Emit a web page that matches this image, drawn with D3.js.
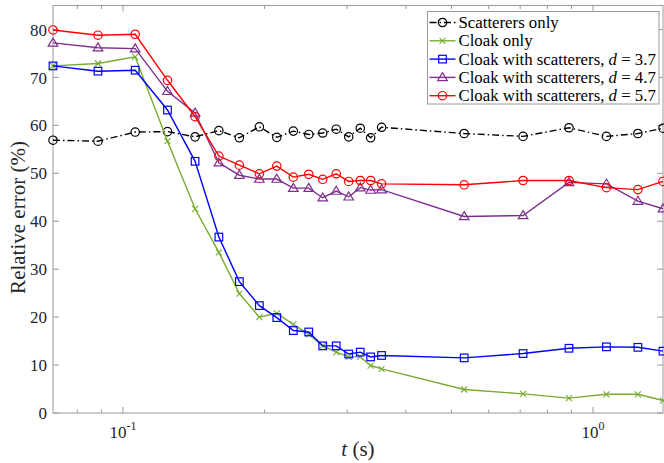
<!DOCTYPE html>
<html>
<head>
<meta charset="utf-8">
<script src="https://cdn.jsdelivr.net/npm/d3@7"></script>
<style>
  body { margin: 0; background: #fff; }
  svg { display: block; font-family: "Liberation Serif", "DejaVu Serif", serif; }
  svg text { font-family: "Liberation Serif", "DejaVu Serif", serif; }
</style>
</head>
<body>
<svg id="chart" width="664" height="463"></svg>
<script>
// time samples (s)
const tValues = [0.0710, 0.0885, 0.1062, 0.1244, 0.1424, 0.1600, 0.1769, 0.1951, 0.2125, 0.2304,
  0.2485, 0.2661, 0.2843, 0.3022, 0.3198, 0.3365, 0.3550, 0.5320, 0.7100, 0.8890, 1.0680, 1.2460, 1.4090]

const scatterersOnly = [56.9, 56.7, 58.6, 58.7, 57.6, 58.9, 57.4, 59.7, 57.5, 58.8, 58.1, 58.4, 59.2,
  57.6, 59.4, 57.4, 59.6, 58.3, 57.7, 59.5, 57.7, 58.3, 59.4]
const cloakOnly = [72.4, 72.9, 74.3, 56.7, 42.6, 33.5, 24.9, 20.0, 20.8, 18.5, 16.4, 14.0, 12.7,
  11.7, 11.7, 9.9, 9.2, 4.9, 4.0, 3.1, 3.9, 3.9, 2.6]
const cloakD37 = [72.4, 71.3, 71.5, 63.2, 52.5, 36.7, 27.4, 22.4, 19.9, 17.2, 16.9, 14.0, 14.0,
  12.3, 12.7, 11.7, 12.0, 11.5, 12.4, 13.5, 13.8, 13.7, 12.9]
const cloakD47 = [77.2, 76.2, 76.0, 67.1, 62.6, 52.2, 49.6, 48.8, 48.8, 46.9, 46.9, 44.9, 46.3,
  45.1, 47.0, 46.5, 46.6, 41.0, 41.2, 48.1, 47.8, 44.2, 42.6]
const cloakD57 = [79.9, 78.8, 79.0, 69.4, 61.8, 53.6, 51.7, 49.9, 51.5, 49.2, 49.8, 48.75, 49.9,
  48.3, 48.5, 48.5, 47.8, 47.6, 48.5, 48.5, 47.0, 46.6, 48.3]

const seriesNames = ['Scatterers only', 'Cloak only', 'Cloak with scatterers, ', 'Cloak with scatterers, ', 'Cloak with scatterers, ']
const dLabels = [null, null, '3.7', '4.7', '5.7']
const yTicks = [0, 10, 20, 30, 40, 50, 60, 70, 80]

const series = [
  { name: seriesNames[0], d: dLabels[0], values: scatterersOnly, color: '#000000', marker: 'circle', dash: '7,3,1.5,3' },
  { name: seriesNames[1], d: dLabels[1], values: cloakOnly, color: '#77AC30', marker: 'cross', dash: null },
  { name: seriesNames[2], d: dLabels[2], values: cloakD37, color: '#0000FF', marker: 'square', dash: null },
  { name: seriesNames[3], d: dLabels[3], values: cloakD47, color: '#7E2F8E', marker: 'triangle', dash: null },
  { name: seriesNames[4], d: dLabels[4], values: cloakD57, color: '#FF0000', marker: 'circle', dash: null }
]

const graphWidth = 664
const graphHeight = 463
const margin = { top: 5.5, bottom: 50, left: 53, right: 1 }
const width = graphWidth - margin.left - margin.right
const height = graphHeight - margin.top - margin.bottom
const axisColor = '#9a9a9a'
const textColor = '#262626'

const svg = d3.select('#chart')

const chartArea = svg.append('g')
  .attr('transform', `translate(${margin.left},${margin.top})`)

//scales
const xScale = d3.scaleLog().domain([0.0710, 1.4090]).range([0, width])
const yScale = d3.scaleLinear().domain([0, 85]).range([height, 0])

//box
chartArea.append('rect')
  .attr('width', width).attr('height', height)
  .attr('fill', 'none').attr('stroke', axisColor).attr('stroke-width', 1)

//major + minor x ticks (inward, top and bottom)
const majorX = [0.1, 1]
const minorX = [0.08, 0.09, 0.2, 0.3, 0.4, 0.5, 0.6, 0.7, 0.8, 0.9]
const tickG = chartArea.append('g').attr('stroke', axisColor).attr('stroke-width', 1)
majorX.forEach(v => {
  const x = xScale(v)
  tickG.append('line').attr('x1', x).attr('x2', x).attr('y1', height).attr('y2', height - 6)
  tickG.append('line').attr('x1', x).attr('x2', x).attr('y1', 0).attr('y2', 6)
})
minorX.forEach(v => {
  const x = xScale(v)
  tickG.append('line').attr('x1', x).attr('x2', x).attr('y1', height).attr('y2', height - 3.5)
  tickG.append('line').attr('x1', x).attr('x2', x).attr('y1', 0).attr('y2', 3.5)
})
yTicks.forEach(v => {
  const y = yScale(v)
  tickG.append('line').attr('x1', 0).attr('x2', 6).attr('y1', y).attr('y2', y)
  tickG.append('line').attr('x1', width - 6).attr('x2', width).attr('y1', y).attr('y2', y)
})

//y tick labels
chartArea.append('g').selectAll('text')
  .data(yTicks).enter().append('text')
  .attr('x', -6).attr('y', d => yScale(d))
  .attr('dy', '0.36em')
  .attr('text-anchor', 'end')
  .attr('font-size', 17)
  .attr('fill', textColor)
  .text(d => d)

//x tick labels 10^n
const xLabels = chartArea.append('g').selectAll('text')
  .data([{ v: 0.1, e: '-1' }, { v: 1, e: '0' }]).enter().append('text')
  .attr('x', d => xScale(d.v)).attr('y', height + 25)
  .attr('text-anchor', 'middle')
  .attr('font-size', 17)
  .attr('fill', textColor)
xLabels.append('tspan').text('10')
xLabels.append('tspan').attr('dy', -8).attr('font-size', 12).text(d => d.e)

//axis titles
chartArea.append('text')
  .attr('x', 305).attr('y', height + 43)
  .attr('text-anchor', 'middle').attr('font-size', 21).attr('fill', textColor)
  .html('<tspan font-style="italic">t</tspan> (s)')

chartArea.append('text')
  .attr('transform', `translate(${-28},${212}) rotate(-90)`)
  .attr('text-anchor', 'middle').attr('font-size', 21).attr('fill', textColor)
  .text('Relative error (%)')

//marker drawing
function drawMarker(g, type, x, y, color) {
  if (type === 'circle') {
    g.append('circle').attr('cx', x).attr('cy', y).attr('r', 4.2)
      .attr('fill', 'none').attr('stroke', color).attr('stroke-width', 1.2)
  } else if (type === 'square') {
    g.append('rect').attr('x', x - 3.8).attr('y', y - 3.8).attr('width', 7.6).attr('height', 7.6)
      .attr('fill', 'none').attr('stroke', color).attr('stroke-width', 1.2)
  } else if (type === 'triangle') {
    g.append('path').attr('d', `M${x},${y - 4.8}L${x + 4.8},${y + 3.2}L${x - 4.8},${y + 3.2}Z`)
      .attr('fill', 'none').attr('stroke', color).attr('stroke-width', 1.2)
  } else if (type === 'cross') {
    g.append('path').attr('d', `M${x - 3},${y - 3}L${x + 3},${y + 3}M${x - 3},${y + 3}L${x + 3},${y - 3}`)
      .attr('fill', 'none').attr('stroke', color).attr('stroke-width', 1.1)
  }
}

const pathGenerator = d3.line()
  .x(d => xScale(d.x))
  .y(d => yScale(d.y))

const plotG = chartArea.append('g')

series.forEach(s => {
  const data = tValues.map((t, i) => ({ x: t, y: s.values[i] }))
  plotG.append('path')
    .datum(data)
    .attr('fill', 'none')
    .attr('stroke', s.color)
    .attr('stroke-width', 1.4)
    .attr('stroke-dasharray', s.dash)
    .attr('d', pathGenerator)
  const mg = plotG.append('g')
  data.forEach(d => drawMarker(mg, s.marker, xScale(d.x), yScale(d.y), s.color))
})

//legend
const legend = svg.append('g').attr('transform', 'translate(427.5,11.5)')
legend.append('rect')
  .attr('width', 231.5).attr('height', 92.5)
  .attr('fill', '#fff').attr('stroke', axisColor).attr('stroke-width', 1)

series.forEach((s, i) => {
  const y = 11 + i * 18.3
  legend.append('line')
    .attr('x1', 2).attr('x2', 28).attr('y1', y).attr('y2', y)
    .attr('stroke', s.color).attr('stroke-width', 1.4)
    .attr('stroke-dasharray', s.dash)
  drawMarker(legend, s.marker, 15, y, s.color)
  const txt = legend.append('text')
    .attr('x', 31).attr('y', y).attr('dy', '0.33em')
    .attr('font-size', 16.8).attr('fill', '#000')
  txt.append('tspan').text(s.name)
  if (s.d) {
    txt.append('tspan').attr('font-style', 'italic').text('d')
    txt.append('tspan').text(' = ' + s.d)
  }
})
</script>
</body>
</html>
